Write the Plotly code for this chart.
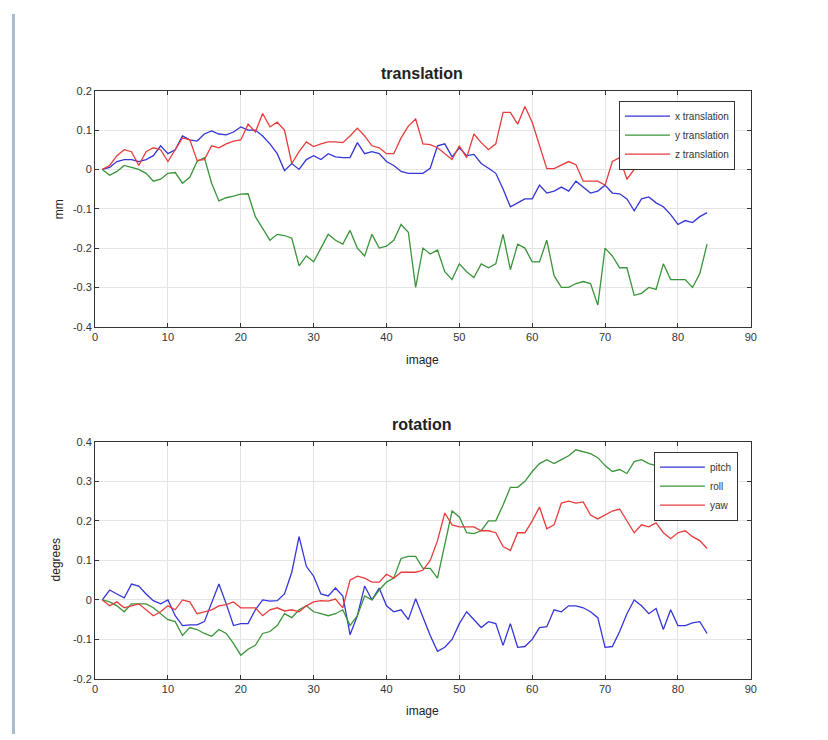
import plotly.graph_objects as go

images = list(range(1, 85))

x_translation = [0, 0.005, 0.02, 0.025, 0.025, 0.02, 0.025, 0.035, 0.06, 0.04,
                 0.05, 0.085, 0.075, 0.072, 0.09, 0.098, 0.09, 0.088, 0.095, 0.108,
                 0.1, 0.1, 0.085, 0.065, 0.04, -0.003, 0.015, 0.0, 0.025, 0.035,
                 0.025, 0.04, 0.032, 0.03, 0.03, 0.068, 0.04, 0.045, 0.04, 0.02,
                 0.01, -0.005, -0.01, -0.01, -0.01, 0.003, 0.06, 0.065, 0.032, 0.055,
                 0.035, 0.038, 0.015, 0.003, -0.01, -0.05, -0.095, -0.085, -0.075, -0.075,
                 -0.04, -0.06, -0.055, -0.045, -0.055, -0.03, -0.045, -0.06, -0.055, -0.04,
                 -0.06, -0.062, -0.075, -0.105, -0.075, -0.07, -0.085, -0.095, -0.115, -0.14,
                 -0.13, -0.135, -0.12, -0.11]
y_translation = [0, -0.015, -0.005, 0.01, 0.005, 0.0, -0.01, -0.03, -0.025, -0.01,
                 -0.008, -0.035, -0.02, 0.02, 0.03, -0.035, -0.08, -0.072, -0.068, -0.063,
                 -0.062, -0.12, -0.15, -0.18, -0.165, -0.168, -0.175, -0.245, -0.22, -0.235,
                 -0.2, -0.165, -0.18, -0.19, -0.155, -0.2, -0.22, -0.165, -0.2, -0.195,
                 -0.18, -0.14, -0.16, -0.3, -0.2, -0.215, -0.205, -0.26, -0.28, -0.24,
                 -0.26, -0.275, -0.24, -0.25, -0.24, -0.165, -0.255, -0.19, -0.2, -0.235,
                 -0.235, -0.18, -0.27, -0.3, -0.3, -0.29, -0.285, -0.29, -0.345, -0.2,
                 -0.22, -0.25, -0.25, -0.32, -0.315, -0.3, -0.305, -0.24, -0.28, -0.28,
                 -0.28, -0.3, -0.265, -0.19]
z_translation = [0, 0.01, 0.035, 0.05, 0.045, 0.01, 0.045, 0.055, 0.05, 0.02,
                 0.05, 0.08, 0.075, 0.023, 0.025, 0.06, 0.055, 0.065, 0.072, 0.075,
                 0.115, 0.095, 0.142, 0.108, 0.12, 0.1, 0.015, 0.045, 0.07, 0.058,
                 0.065, 0.07, 0.07, 0.068, 0.085, 0.105, 0.085, 0.06, 0.055, 0.04,
                 0.04, 0.08, 0.11, 0.128, 0.065, 0.063, 0.055, 0.04, 0.025, 0.06,
                 0.03, 0.09, 0.068, 0.05, 0.065, 0.145, 0.145, 0.115, 0.16, 0.12,
                 0.06, 0.002, 0.002, 0.01, 0.02, 0.012, -0.03, -0.03, -0.03, -0.04,
                 0.02, 0.03, -0.025, 0.0, 0.02, 0.01, 0.04, 0.07, 0.08, 0.07,
                 0.09, 0.1, 0.08, 0.09]

pitch = [0, 0.025, 0.015, 0.005, 0.04, 0.035, 0.015, -0.002, -0.01, 0.0,
         -0.04, -0.065, -0.063, -0.063, -0.055, -0.005, 0.04, -0.01, -0.065, -0.06,
         -0.06, -0.025, 0.0, -0.003, -0.002, 0.015, 0.07, 0.16, 0.085, 0.06,
         0.015, 0.01, 0.03, 0.01, -0.088, -0.04, 0.035, 0.0, 0.03, -0.015,
         -0.03, -0.025, -0.05, 0.003, -0.045, -0.09, -0.13, -0.12, -0.1, -0.06,
         -0.03, -0.05, -0.07, -0.055, -0.06, -0.115, -0.06, -0.12, -0.118, -0.1,
         -0.07, -0.068, -0.025, -0.03, -0.015, -0.015, -0.02, -0.03, -0.045, -0.12,
         -0.118, -0.08, -0.035, 0.0, -0.015, -0.035, -0.022, -0.075, -0.025, -0.065,
         -0.065, -0.058, -0.055, -0.085]
roll = [0, -0.005, -0.015, -0.03, -0.01, -0.01, -0.01, -0.02, -0.035, -0.05,
        -0.055, -0.09, -0.07, -0.075, -0.085, -0.092, -0.075, -0.085, -0.11, -0.14,
        -0.125, -0.115, -0.085, -0.08, -0.065, -0.035, -0.045, -0.025, -0.015, -0.03,
        -0.035, -0.04, -0.035, -0.025, -0.065, -0.04, 0.01, 0.0, 0.025, 0.045,
        0.055, 0.105, 0.11, 0.11, 0.08, 0.08, 0.055, 0.14, 0.225, 0.21,
        0.17, 0.168, 0.175, 0.2, 0.2, 0.24, 0.285, 0.285, 0.3, 0.325,
        0.345, 0.355, 0.345, 0.355, 0.365, 0.38, 0.375, 0.37, 0.36, 0.34,
        0.325, 0.33, 0.32, 0.35, 0.355, 0.345, 0.34, 0.33, 0.34, 0.32,
        0.33, 0.31, 0.32, 0.3]
yaw = [0, -0.015, -0.005, -0.02, -0.015, -0.01, -0.025, -0.04, -0.03, -0.015,
       -0.025, 0.0, -0.005, -0.035, -0.03, -0.025, -0.015, -0.012, -0.005, -0.02,
       -0.02, -0.02, -0.04, -0.025, -0.02, -0.028, -0.025, -0.03, -0.015, -0.005,
       -0.002, -0.003, 0.002, -0.02, 0.05, 0.06, 0.055, 0.045, 0.045, 0.065,
       0.055, 0.07, 0.07, 0.07, 0.075, 0.1, 0.15, 0.22, 0.19, 0.185,
       0.185, 0.185, 0.175, 0.175, 0.17, 0.135, 0.125, 0.17, 0.17, 0.2,
       0.235, 0.18, 0.19, 0.245, 0.25, 0.245, 0.248, 0.215, 0.205, 0.215,
       0.225, 0.23, 0.2, 0.17, 0.19, 0.185, 0.195, 0.17, 0.155, 0.17,
       0.175, 0.16, 0.15, 0.13]

x_ticks = [0, 10, 20, 30, 40, 50, 60, 70, 80, 90]
trans_ticks = [0.2, 0.1, 0, -0.1, -0.2, -0.3, -0.4]
trans_labels = ["0.2", "0.1", "0", "-0.1", "-0.2", "-0.3", "-0.4"]
rot_ticks = [0.4, 0.3, 0.2, 0.1, 0, -0.1, -0.2]
rot_labels = ["0.4", "0.3", "0.2", "0.1", "0", "-0.1", "-0.2"]

BLUE = "#3535d8"
GREEN = "#3a943a"
RED = "#e63c3c"
FONT = "Liberation Sans"

OFF = 8  # page body margin
W, H = 828 - OFF, 740 - OFF


def px(v):
    return (v - OFF) / W


def py(v):
    return 1 - (v - OFF) / H


fig = go.Figure()


def add(x, y, name, color, xa, ya, leg):
    fig.add_trace(go.Scatter(x=x, y=y, name=name, mode="lines",
                             line=dict(color=color, width=1.3),
                             xaxis=xa, yaxis=ya, legend=leg))


add(images, x_translation, "x translation", BLUE, "x", "y", "legend")
add(images, y_translation, "y translation", GREEN, "x", "y", "legend")
add(images, z_translation, "z translation", RED, "x", "y", "legend")
add(images, pitch, "pitch", BLUE, "x2", "y2", "legend2")
add(images, roll, "roll", GREEN, "x2", "y2", "legend2")
add(images, yaw, "yaw", RED, "x2", "y2", "legend2")

xdom = [px(93), px(756)]
axis_common = dict(showline=True, linecolor="#333333", linewidth=1, mirror="ticks",
                   ticks="inside", ticklen=4, tickcolor="#333333",
                   showgrid=True, gridcolor="#e4e4e4", gridwidth=1, zeroline=False,
                   tickfont=dict(family=FONT, size=11, color="#333333"))

legend_common = dict(xanchor="right", yanchor="top",
                     bgcolor="white", bordercolor="#333333", borderwidth=1,
                     font=dict(family=FONT, size=10, color="#333333"),
                     tracegroupgap=0, itemwidth=45)

fig.update_layout(
    width=W, height=H,
    margin=dict(l=0, r=0, t=0, b=0),
    paper_bgcolor="white", plot_bgcolor="white",
    font=dict(family=FONT, color="#222222"),
    xaxis=dict(domain=xdom, range=[0, 90], tickvals=x_ticks, anchor="y", **axis_common),
    yaxis=dict(domain=[py(326), py(86)], range=[-0.4, 0.2], tickvals=trans_ticks,
               ticktext=trans_labels, anchor="x", **axis_common),
    xaxis2=dict(domain=xdom, range=[0, 90], tickvals=x_ticks, anchor="y2", **axis_common),
    yaxis2=dict(domain=[py(684), py(443)], range=[-0.2, 0.4], tickvals=rot_ticks,
                ticktext=rot_labels, anchor="x2", **axis_common),
    legend=dict(x=px(740), y=py(96), **legend_common),
    legend2=dict(x=px(743), y=py(453), **legend_common),
    showlegend=True,
)

annots = [
    dict(text="<b>translation</b>", x=px(424), y=py(68), size=16),
    dict(text="<b>rotation</b>", x=px(424), y=py(425), size=16),
    dict(text="image", x=px(424), y=py(360), size=12),
    dict(text="image", x=px(424), y=py(717), size=12),
]
for a in annots:
    fig.add_annotation(text=a["text"], x=a["x"], y=a["y"], xref="paper", yref="paper",
                       xanchor="center", yanchor="middle", showarrow=False,
                       font=dict(family=FONT, size=a["size"], color="#222222"))
fig.add_annotation(text="mm", x=px(56), y=py(206), xref="paper", yref="paper",
                   textangle=-90, showarrow=False, xanchor="center", yanchor="middle",
                   font=dict(family=FONT, size=12, color="#222222"))
fig.add_annotation(text="degrees", x=px(53), y=py(563), xref="paper", yref="paper",
                   textangle=-90, showarrow=False, xanchor="center", yanchor="middle",
                   font=dict(family=FONT, size=12, color="#222222"))

# left page border line
fig.add_shape(type="line", xref="paper", yref="paper", x0=px(10.5), x1=px(10.5),
              y0=0, y1=py(8), line=dict(color="#a8bccd", width=3))

fig.write_html("out.html")
